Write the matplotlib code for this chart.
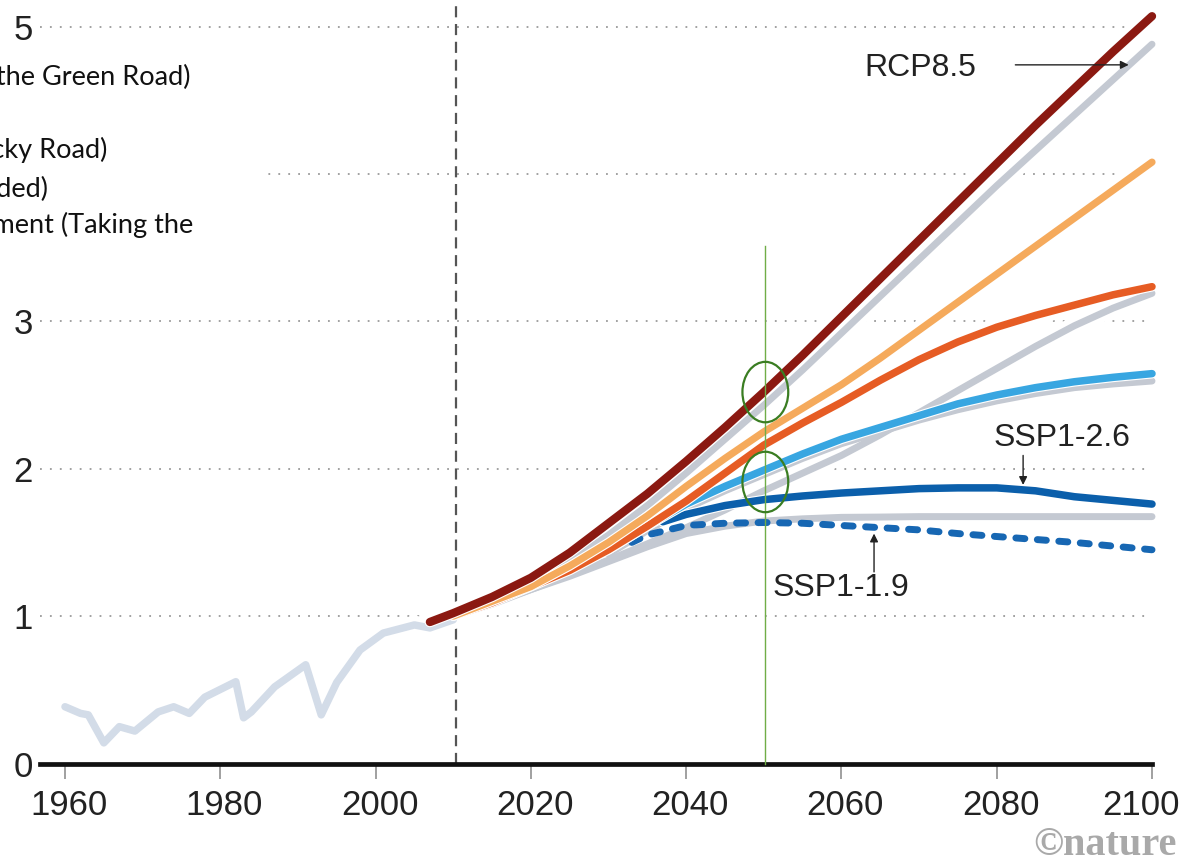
import matplotlib
matplotlib.use("Agg")
import matplotlib.pyplot as plt
from matplotlib.patches import Ellipse, Rectangle
import matplotlib.patheffects as pe
from matplotlib.transforms import ScaledTranslation

# ---------------- data ----------------
hist_years = [1960, 1962, 1963, 1965, 1967, 1969, 1972, 1974, 1976, 1978,
              1982, 1983, 1984, 1987, 1991, 1993, 1995, 1998, 2001, 2005, 2007, 2010]
hist_vals = [0.385, 0.34, 0.33, 0.14, 0.25, 0.22, 0.35, 0.385, 0.34, 0.45,
             0.555, 0.31, 0.35, 0.52, 0.67, 0.33, 0.55, 0.77, 0.885, 0.94, 0.92, 0.975]

red_years = [2007, 2010, 2015, 2020, 2025, 2030, 2035, 2040, 2045, 2050, 2055,
             2060, 2065, 2070, 2075, 2080, 2085, 2090, 2095, 2100]
red_vals = [0.96, 1.02, 1.13, 1.26, 1.43, 1.63, 1.83, 2.05, 2.28, 2.52, 2.77,
            3.03, 3.29, 3.55, 3.81, 4.07, 4.33, 4.58, 4.83, 5.07]

full_years = [2010, 2015, 2020, 2025, 2030, 2035, 2040, 2045, 2050, 2055,
              2060, 2065, 2070, 2075, 2080, 2085, 2090, 2095, 2100]
grey85_vals = [1.0, 1.10, 1.22, 1.37, 1.55, 1.75, 1.97, 2.20, 2.43, 2.67,
               2.92, 3.17, 3.42, 3.67, 3.92, 4.16, 4.40, 4.64, 4.88]
yellow_vals = [1.0, 1.10, 1.20, 1.34, 1.50, 1.68, 1.88, 2.07, 2.25, 2.41,
               2.57, 2.75, 2.94, 3.13, 3.32, 3.51, 3.70, 3.89, 4.08]
orange_vals = [1.0, 1.09, 1.20, 1.31, 1.45, 1.61, 1.78, 1.97, 2.16, 2.31,
               2.45, 2.60, 2.74, 2.86, 2.96, 3.04, 3.11, 3.18, 3.235]
grey60_vals = [1.0, 1.09, 1.18, 1.28, 1.38, 1.49, 1.60, 1.72, 1.85, 1.97,
               2.09, 2.23, 2.38, 2.53, 2.68, 2.83, 2.97, 3.09, 3.19]
grey26_vals = [1.0, 1.08, 1.18, 1.27, 1.37, 1.47, 1.56, 1.61, 1.645, 1.66,
               1.67, 1.672, 1.675, 1.675, 1.675, 1.675, 1.675, 1.675, 1.675]

lblue_years = [2030, 2035, 2040, 2045, 2050, 2055, 2060, 2065, 2070, 2075,
               2080, 2085, 2090, 2095, 2100]
lblue_vals = [1.45, 1.61, 1.76, 1.88, 1.99, 2.10, 2.20, 2.28, 2.36, 2.44,
              2.50, 2.55, 2.59, 2.62, 2.645]
grey45_vals = [1.42, 1.58, 1.73, 1.85, 1.96, 2.07, 2.17, 2.25, 2.33, 2.40,
               2.46, 2.51, 2.55, 2.575, 2.595]

dblue_years = [2037, 2040, 2045, 2050, 2055, 2060, 2065, 2070, 2075, 2080,
               2085, 2090, 2095, 2100]
dblue_vals = [1.64, 1.69, 1.75, 1.79, 1.815, 1.835, 1.85, 1.865, 1.87, 1.87,
              1.85, 1.81, 1.785, 1.76]

dash_years = [2033, 2035, 2040, 2045, 2050, 2055, 2060, 2065, 2070, 2075,
              2080, 2085, 2090, 2095, 2100]
dash_vals = [1.50, 1.55, 1.615, 1.63, 1.635, 1.63, 1.615, 1.60, 1.585, 1.56,
             1.54, 1.52, 1.50, 1.475, 1.45]

x_ticks = [1960, 1980, 2000, 2020, 2040, 2060, 2080, 2100]
y_ticks = [0, 1, 2, 3, 4, 5]
grid_levels = [1, 2, 3, 4, 5]
divider_year = 2010.4
marker_year = 2050.2
marker_top = 3.51
ellipse_centres = [2.52, 1.91]

legend_lines = ["SSP1: Sustainability (Taking the Green Road)",
                "SSP3: Regional Rivalry (A Rocky Road)",
                "SSP4: Inequality (A Road Divided)",
                "SSP5: Fossil-fueled Development (Taking the"]

# ---------------- figure ----------------
W, H = 1184, 863
fig = plt.figure(figsize=(W / 100, H / 100), dpi=100)
ax = fig.add_axes([40 / W, 99.5 / H, 1112 / W, 763.5 / H])
ax.set_xlim(1956.78, 2100)
ax.set_ylim(0, 5.18)

for s in ["top", "right", "left"]:
    ax.spines[s].set_visible(False)
ax.spines["bottom"].set_linewidth(3.4)
ax.spines["bottom"].set_color("#111111")
ax.spines["bottom"].set_zorder(12)

tick_font = dict(family="Liberation Sans", size=25, color="#222222")
ax.set_xticks(x_ticks)
ax.set_xticklabels([str(t) for t in x_ticks], fontdict=tick_font)
ax.set_yticks(y_ticks)
ax.set_yticklabels([str(t) for t in y_ticks], fontdict=tick_font)
ax.tick_params(axis="x", length=11, width=1.3, color="#999999", pad=7, direction="out")
ax.tick_params(axis="y", length=0, pad=5)

# small horizontal nudges of the tick labels as in the picture
xlabels = ax.get_xticklabels()
for i, lab in enumerate(xlabels):
    dx = -11 if i == len(xlabels) - 1 else 4
    lab.set_transform(lab.get_transform() + ScaledTranslation(dx / 100, 0, fig.dpi_scale_trans))

# dotted grid
for g in grid_levels:
    ax.axhline(g, color="#9a9a9a", lw=1.3, ls=(0, (1, 4.5)), zorder=1)

# divider
ax.axvline(divider_year, ymin=0, ymax=1, color="#555555", lw=1.6,
           ls=(0, (5, 3)), zorder=1.5)

series = [
    # years, values, color, lw, zorder, dashed
    (hist_years, hist_vals, "#d3dce8", 5.4, 3, False),
    (full_years, grey26_vals, "#c4c9d2", 5.0, 3.1, False),
    (lblue_years, grey45_vals, "#c4c9d2", 5.0, 3.2, False),
    (full_years, grey60_vals, "#c4c9d2", 5.0, 3.3, False),
    (full_years, grey85_vals, "#c4c9d2", 5.0, 3.4, False),
    (dash_years, dash_vals, "#1767b3", 5.0, 5, True),
    (dblue_years, dblue_vals, "#0b5fab", 5.4, 6, False),
    (lblue_years, lblue_vals, "#38a6e1", 5.4, 7, False),
    (full_years, orange_vals, "#e65c24", 5.4, 8, False),
    (full_years, yellow_vals, "#f5aa5c", 5.2, 9, False),
    (red_years, red_vals, "#8b1911", 6.0, 10, False),
]

# wide white halos that interrupt the grid and divider
for yrs, vals, col, lw, z, dashed in series:
    ax.plot(yrs, vals, color="white", lw=lw + 8, solid_capstyle="round",
            solid_joinstyle="round", zorder=2, clip_on=False)

for yrs, vals, col, lw, z, dashed in series:
    effects = [pe.Stroke(linewidth=lw + 1.6, foreground="white"), pe.Normal()]
    if dashed:
        ax.plot(yrs, vals, color=col, lw=lw, ls=(0, (1.3, 1.8)),
                dash_capstyle="round", zorder=z, clip_on=False)
    else:
        ax.plot(yrs, vals, color=col, lw=lw, solid_capstyle="round",
                solid_joinstyle="round", zorder=z, clip_on=False,
                path_effects=effects if z >= 5 else None)

# scenario labels
lab_font = dict(family="Liberation Sans", size=23, color="#222222")
ax.text(2063.0, 4.72, "RCP8.5", ha="left", va="center", zorder=15, **lab_font)
ax.annotate("", xy=(2097.0, 4.74), xytext=(2082.4, 4.74),
            arrowprops=dict(arrowstyle="-|>", lw=1.0, color="#222222",
                            mutation_scale=12, shrinkA=0, shrinkB=0), zorder=15)
ax.text(2088.4, 2.21, "SSP1-2.6", ha="center", va="center", zorder=15, **lab_font)
ax.annotate("", xy=(2083.4, 1.89), xytext=(2083.4, 2.09),
            arrowprops=dict(arrowstyle="-|>", lw=1.0, color="#222222",
                            mutation_scale=12, shrinkA=0, shrinkB=0), zorder=15)
ax.text(2059.9, 1.19, "SSP1-1.9", ha="center", va="center", zorder=15, **lab_font)
ax.annotate("", xy=(2064.2, 1.56), xytext=(2064.2, 1.30),
            arrowprops=dict(arrowstyle="-|>", lw=1.0, color="#222222",
                            mutation_scale=12, shrinkA=0, shrinkB=0), zorder=15)

# green markers
ax.plot([marker_year, marker_year], [0, marker_top], color="#70ad47", lw=1.0,
        zorder=16, clip_on=False)
for c in ellipse_centres:
    ax.add_patch(Ellipse((marker_year, c), width=5.9, height=0.41, fill=False,
                         edgecolor="#3a7d22", lw=1.6, zorder=17))

# legend box partly outside the picture
fig.add_artist(Rectangle((0, (H - 300) / H), 265 / W, 255 / H,
                         transform=fig.transFigure, facecolor="white",
                         edgecolor="none", zorder=20))
legend_pos = [(190, 85), (107, 158), (48, 197), (193, 233)]
for (xr, yb), s in zip(legend_pos, legend_lines):
    fig.text(xr / W, (H - yb) / H, s, ha="right", va="baseline",
             family="Lato", fontsize=19.5, color="#111111", zorder=21)

# watermark
fig.text(1177 / W, 8 / H, "\u00a9nature", ha="right", va="baseline",
         family="Liberation Serif", weight="bold", fontsize=29,
         color="#a9a9a9")

fig.savefig("out.png", dpi=100)
